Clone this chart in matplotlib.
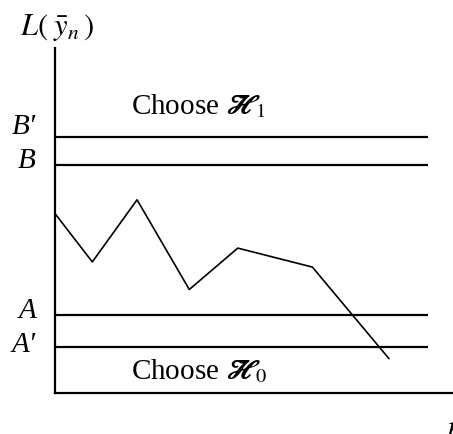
import matplotlib
matplotlib.use("Agg")
import matplotlib.pyplot as plt

plt.rcParams['font.family'] = ['Liberation Serif', 'STIXGeneral', 'DejaVu Serif']
plt.rcParams['mathtext.fontset'] = 'stix'

# sample path of the log-likelihood ratio
steps = [0, 1.0, 2.2, 3.6, 4.9, 6.9, 8.95]
llr = [5.2, 3.8, 5.6, 3.0, 4.2, 3.65, 1.0]

# decision thresholds
threshold_names = ["B′", "B", "A", "A′"]
threshold_values = [7.43, 6.62, 2.26, 1.33]
threshold_label_y = [7.72, 6.72, 2.38, 1.38]

fig = plt.figure(figsize=(4.53, 4.34), dpi=100)
ax = fig.add_axes([55 / 453, 41 / 434, 1 - 55 / 453, 345 / 434])
ax.set_xlim(0, 10.67)
ax.set_ylim(0, 10)

for val in threshold_values:
    ax.plot([0, 10], [val, val], color='black', lw=1.6, solid_capstyle='butt')

ax.plot(steps, llr, color='black', lw=1.2)

for name, ly in zip(threshold_names, threshold_label_y):
    ax.text(-0.51, ly, name, ha='right', va='center', fontsize=21,
            style='italic', clip_on=False)

ax.text(2.03, 8.09, 'Choose $\\mathrm{𝓗}_{\\!\\!1}$', fontsize=21, va='baseline')
ax.text(2.03, 0.41, 'Choose $\\mathrm{𝓗}_{\\!\\!0}$', fontsize=21, va='baseline')

# y-axis label above the axis
ax.text(0.05, 10.6, r'$L\left(\;\bar{y}_n\,\right)$', fontsize=22, ha='center',
        va='center', clip_on=False)
ax.text(10.5, -1.25, r'$n$', fontsize=22, ha='left', va='baseline', clip_on=False)

for side in ['top', 'right']:
    ax.spines[side].set_visible(False)
for side in ['left', 'bottom']:
    ax.spines[side].set_linewidth(1.6)
ax.set_xticks([])
ax.set_yticks([])

fig.savefig("out.png", dpi=100)
